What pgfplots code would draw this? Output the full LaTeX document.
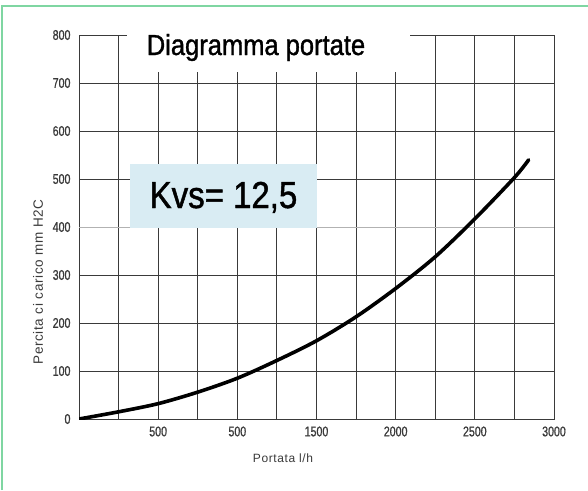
\documentclass[border=0pt]{standalone}
\usepackage{pgfplots}
\pgfplotsset{compat=1.18}
\usepackage{fontspec}
\setmainfont{Liberation Sans}
\newfontfamily\narrowfont[FakeStretch=0.88, FakeBold=1.2]{Liberation Sans}
\newfontfamily\tickfont[FakeStretch=0.76, FakeBold=0.8]{Liberation Sans}
\newfontfamily\labfont[LetterSpace=5]{Liberation Sans}
\definecolor{framec}{HTML}{7FD6A2}
\definecolor{kvsbox}{HTML}{D9ECF3}
\definecolor{gridc}{HTML}{3A3A3A}
\definecolor{labc}{HTML}{3A3A3A}
\begin{document}
\begin{tikzpicture}[x=1pt,y=1pt]
\useasboundingbox (0,0) rectangle (588,-490);
\fill[white] (0,0) rectangle (588,-490);
\draw[framec, line width=2pt] (2,-490) -- (2,-6) -- (588,-6);
\begin{axis}[
  at={(79pt,-419pt)}, anchor=south west,
  scale only axis, width=475pt, height=384pt,
  xmin=0, xmax=3000, ymin=0, ymax=800,
  axis line style={gridc, line width=0.9pt},
  grid=major, grid style={gridc, line width=0.9pt},
  major tick length=0pt,
  xtick={250,500,...,3000},
  xticklabels={,500,,500,,1500,,2000,,2500,,3000},
  ytick={0,100,200,300,500,600,700,800},
  extra y ticks={400},
  extra y tick style={grid style={black!30, line width=0.9pt}},
  /pgf/number format/assume math mode=true,
  tick label style={font=\tickfont\fontsize{14}{16}\selectfont, text=labc},
  xticklabel style={yshift=-4pt},
  yticklabel style={xshift=-5pt},
]
\addplot[black, line width=3.6pt, line cap=round, line join=round, smooth] coordinates {
(0,0) (250,15) (500,32) (750,56) (1000,85) (1250,122) (1500,163)
(1750,213) (2000,272) (2250,338) (2500,417) (2750,503) (2840,540)
};
\end{axis}
\fill[white] (127,-20) rectangle (410,-72);
\node[anchor=base, inner sep=0pt, font=\narrowfont\fontsize{29}{32}\selectfont] at (256,-55) {Diagramma portate};
\fill[kvsbox] (130,-164) rectangle (317,-228);
\node[anchor=base, inner sep=0pt, font=\narrowfont\fontsize{37.5}{40}\selectfont] at (223.5,-208) {Kvs= 12,5};
\node[rotate=90, font=\labfont\fontsize{13.5}{15}\selectfont, text=labc] at (38,-282) {Percita ci carico mm H2C};
\node[font=\labfont\fontsize{12}{14}\selectfont, text=labc] at (283,-458) {Portata l/h};
\end{tikzpicture}
\end{document}
